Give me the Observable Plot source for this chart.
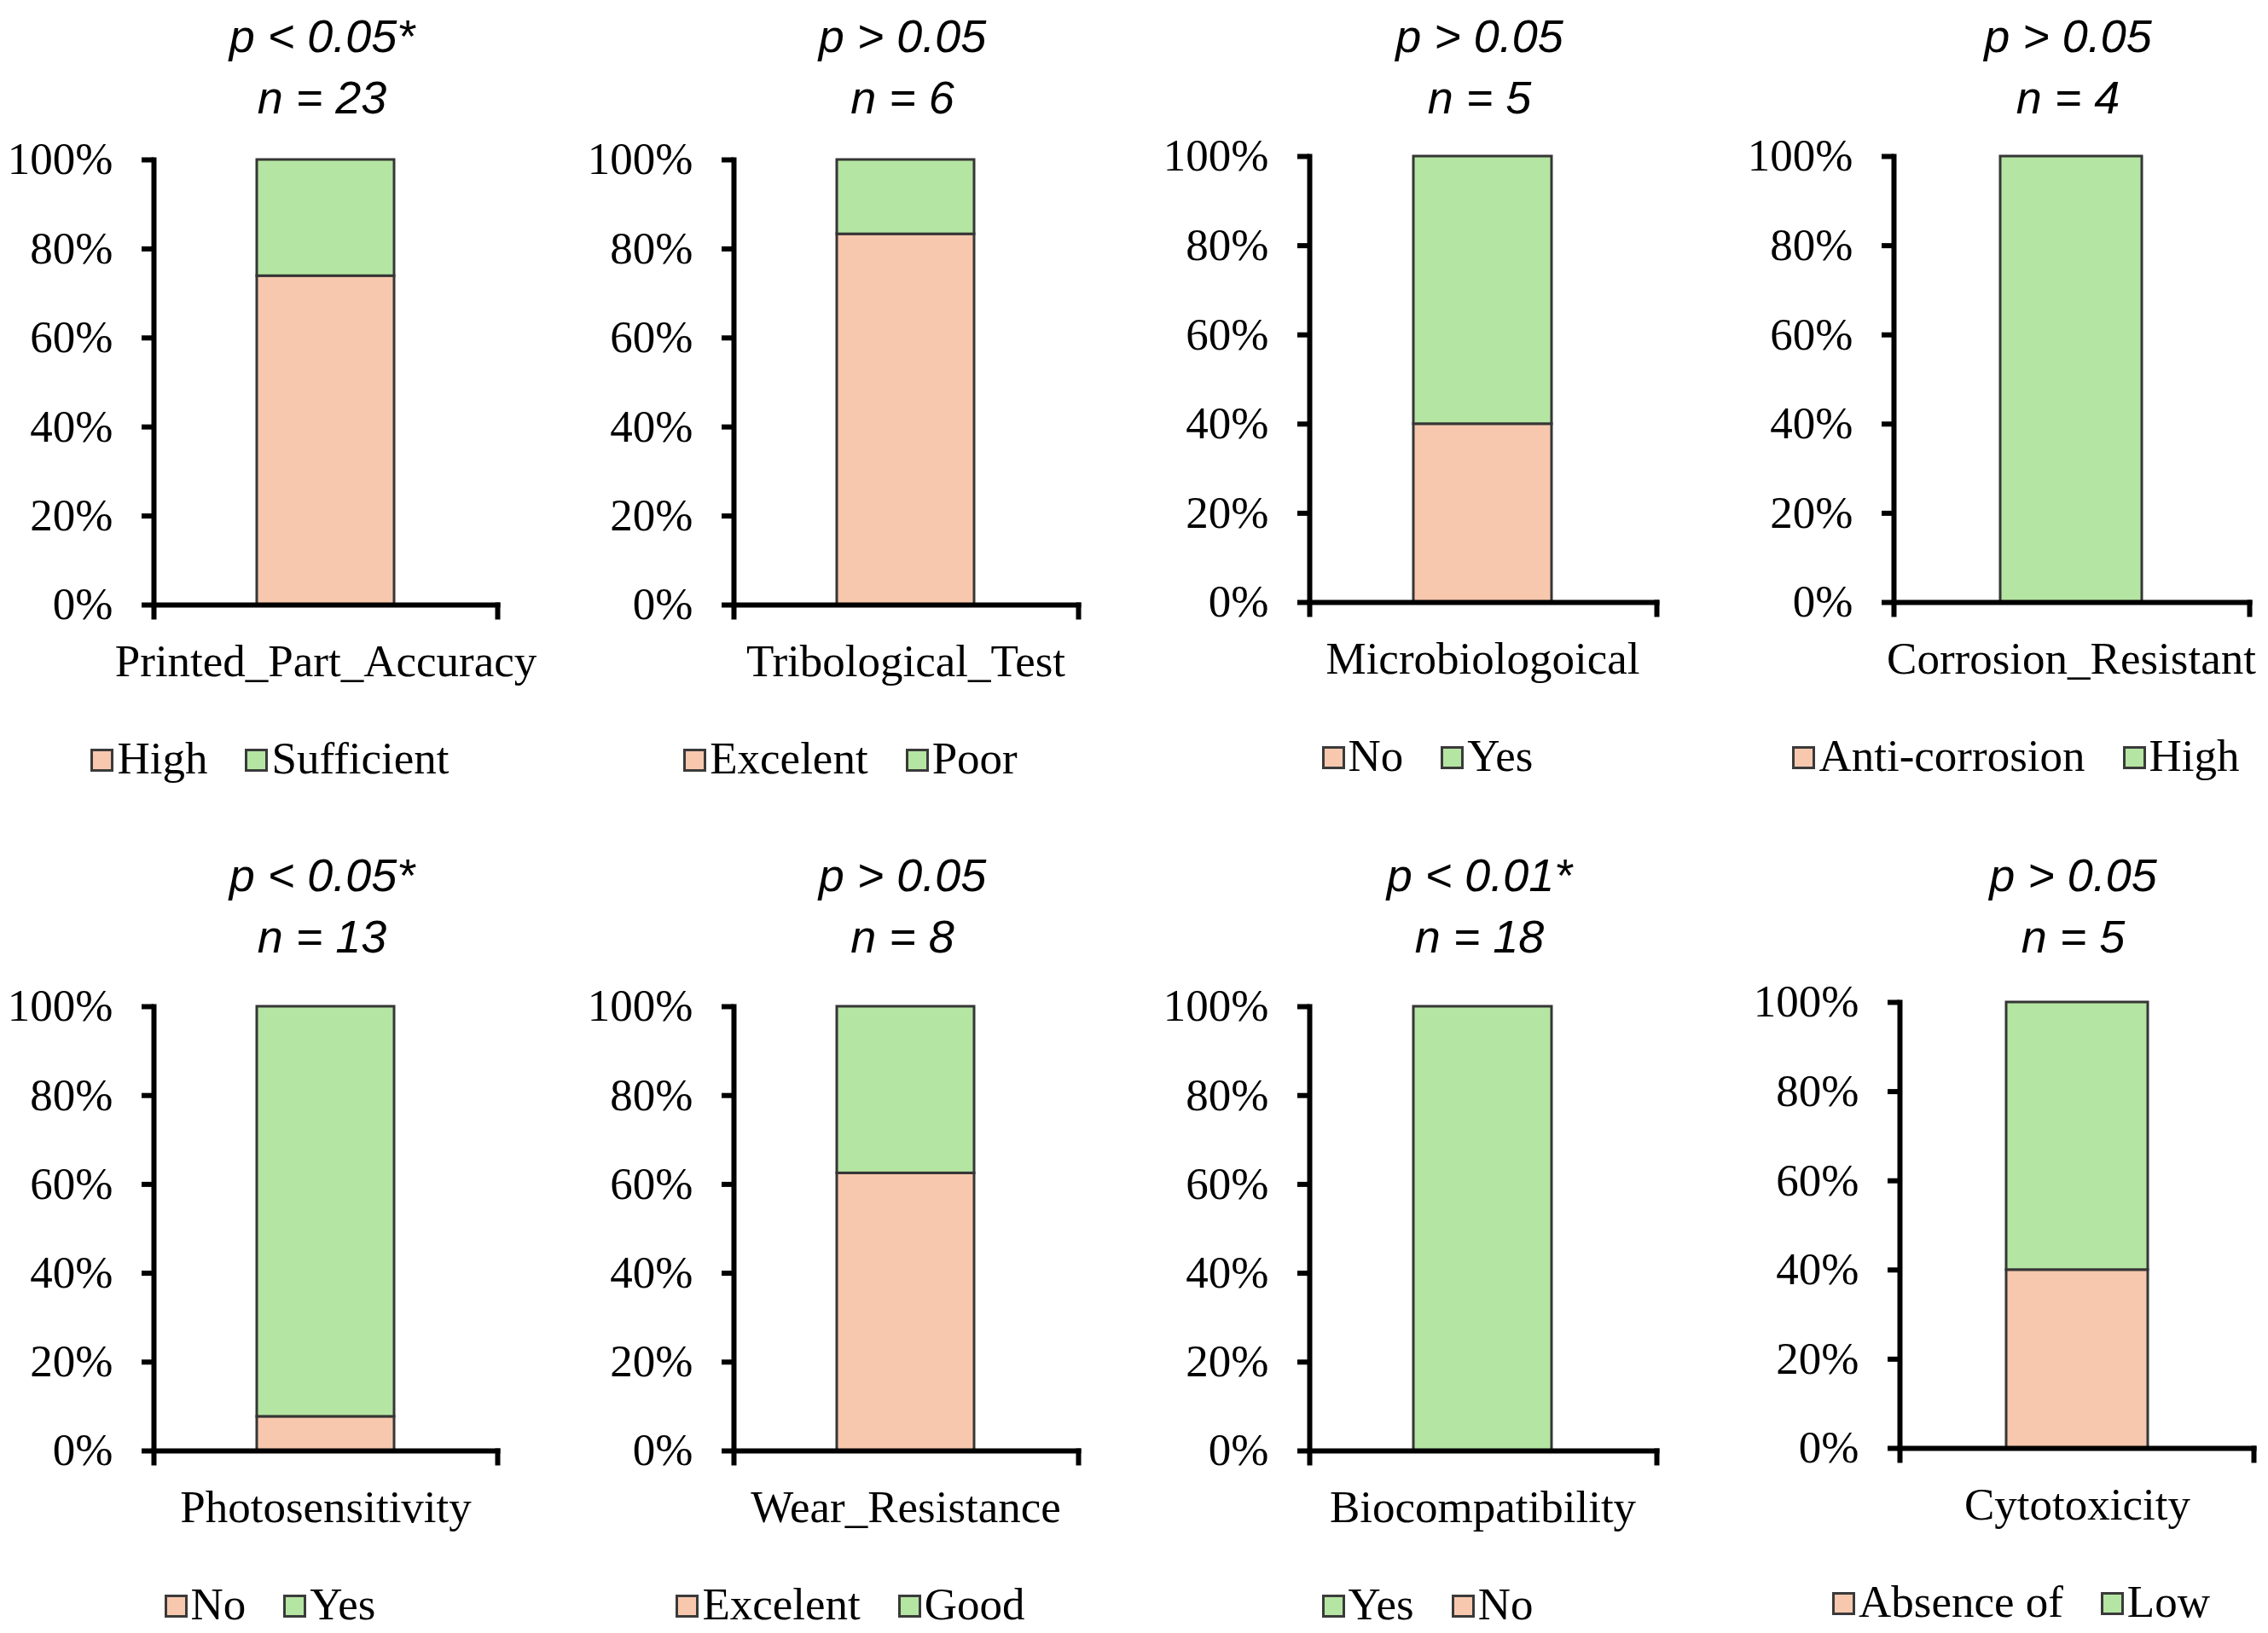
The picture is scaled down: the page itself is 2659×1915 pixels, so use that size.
<!DOCTYPE html>
<html>
<head>
<meta charset="utf-8">
<script src="https://cdn.jsdelivr.net/npm/d3@7"></script>
<script src="https://cdn.jsdelivr.net/npm/@observablehq/plot@0.6"></script>
<style>
  html, body { margin: 0; padding: 0; background: #fff; }
  #wrap { position: relative; width: 2659px; height: 1915px; overflow: hidden; background: #fff; }
  .panel-svg { position: absolute; }
  .panel-svg text { font-family: 'Liberation Serif', 'Times New Roman', serif; }
  .title { position: absolute; width: 600px; text-align: center; font-family: 'Liberation Sans', Arial, sans-serif; font-style: italic; font-size: 54px; line-height: 72px; color: #000; white-space: nowrap; }
  .legend { position: absolute; width: 700px; height: 70px; display: flex; justify-content: center; align-items: center; font-family: 'Liberation Serif', 'Times New Roman', serif; font-size: 53px; color: #000; white-space: nowrap; }
  .item { display: flex; align-items: center; margin: 0 22px; }
  .sw { width: 27px; height: 27px; box-sizing: border-box; border: 3px solid #3a3a3a; margin-right: 4px; margin-top: 4px; }
</style>
</head>
<body>
<div id="wrap"></div>
<script>
// ---- data ----
const categories = ["Printed_Part_Accuracy", "Tribological_Test", "Microbiologoical", "Corrosion_Resistant",
                    "Photosensitivity", "Wear_Resistance", "Biocompatibility", "Cytotoxicity"];
const pLabels = ["p < 0.05*", "p > 0.05", "p > 0.05", "p > 0.05", "p < 0.05*", "p > 0.05", "p < 0.01*", "p > 0.05"];
const nValues = [23, 6, 5, 4, 13, 8, 18, 5];
const levelA = ["High", "Excelent", "No", "Anti-corrosion", "No", "Excelent", "No", "Absence of"];   // lower (peach) segment
const levelB = ["Sufficient", "Poor", "Yes", "High", "Yes", "Good", "Yes", "Low"];                 // upper (green) segment
const shareA = [0.739, 0.833, 0.40, 0.0, 0.077, 0.625, 0.0, 0.40];
const shareB = [0.261, 0.167, 0.60, 1.0, 0.923, 0.375, 1.0, 0.60];
const legendBFirst = [false, false, false, false, false, false, true, false];
const yTicks = [0, 0.2, 0.4, 0.6, 0.8, 1.0];

// ---- layout (pixels) ----
const colorA = "#F7C8AD", colorB = "#B5E5A2";
const axisX   = [180, 860, 1535, 2220, 180, 860, 1535, 2227];
const axisEnd = [583, 1264, 1942, 2637, 583, 1264, 1942, 2642];
const plotTop = [187, 187, 183, 183, 1180, 1180, 1180, 1175];
const plotBot = [709, 709, 706, 706, 1701, 1701, 1701, 1698];
const titleY  = [42, 42, 42, 42, 1026, 1026, 1026, 1026];
const legendY = [889, 889, 886, 886, 1881, 1881, 1881, 1878];

const wrap = document.getElementById("wrap");
const mL = 180, mR = 40, mT = 40, mB = 120;
const serif = "'Liberation Serif', 'Times New Roman', serif";

categories.forEach((cat, i) => {
  const plotW = axisEnd[i] - axisX[i];
  const plotH = plotBot[i] - plotTop[i];
  const rows = [
    {cat, level: levelA[i], value: shareA[i]},
    {cat, level: levelB[i], value: shareB[i]}
  ];
  const chart = Plot.plot({
    width: mL + plotW + mR,
    height: mT + plotH + mB,
    marginLeft: mL, marginRight: mR, marginTop: mT, marginBottom: mB,
    style: {fontFamily: serif, fontSize: "53px", color: "#000", background: "transparent", overflow: "visible"},
    x: {domain: [cat], padding: 0.4286, label: null},
    y: {domain: [0, 1], label: null},
    color: {domain: [levelA[i], levelB[i]], range: [colorA, colorB]},
    marks: [
      Plot.barY(rows.filter(d => d.value > 0), {x: "cat", y: "value", fill: "level", stroke: "#363636", strokeWidth: 3}),
      Plot.axisY({ticks: yTicks, tickFormat: d3.format(".0%"), tickSize: 14, tickPadding: 34, strokeWidth: 6, fontSize: 53, fontFamily: serif, label: null}),
      Plot.axisX({tickSize: 0, tickPadding: 46, fontSize: 53, fontFamily: serif, label: null}),
      Plot.frame({anchor: "left", strokeWidth: 6, insetBottom: -14}),
      Plot.frame({anchor: "bottom", strokeWidth: 6}),
      Plot.frame({anchor: "right", strokeWidth: 6, insetTop: plotH, insetBottom: -14})
    ]
  });
  chart.classList.add("panel-svg");
  chart.style.left = (axisX[i] - mL) + "px";
  chart.style.top = (plotTop[i] - mT) + "px";
  wrap.appendChild(chart);

  // title
  const cx = (axisX[i] + axisEnd[i]) / 2;
  const t = document.createElement("div");
  t.className = "title";
  t.style.left = (cx - 300 - 4) + "px";
  t.style.top = (titleY[i] - 36) + "px";
  t.innerHTML = pLabels[i] + "<br>n = " + nValues[i];
  wrap.appendChild(t);

  // legend
  const lg = document.createElement("div");
  lg.className = "legend";
  const lcx = cx - 65;
  lg.style.left = (lcx - 350) + "px";
  lg.style.top = (legendY[i] - 35) + "px";
  const items = [[levelA[i], colorA], [levelB[i], colorB]];
  if (legendBFirst[i]) items.reverse();
  items.forEach(([name, col]) => {
    const it = document.createElement("div");
    it.className = "item";
    const sw = document.createElement("div");
    sw.className = "sw";
    sw.style.background = col;
    const tx = document.createElement("span");
    tx.textContent = name;
    it.appendChild(sw);
    it.appendChild(tx);
    lg.appendChild(it);
  });
  wrap.appendChild(lg);
});
</script>
</body>
</html>
